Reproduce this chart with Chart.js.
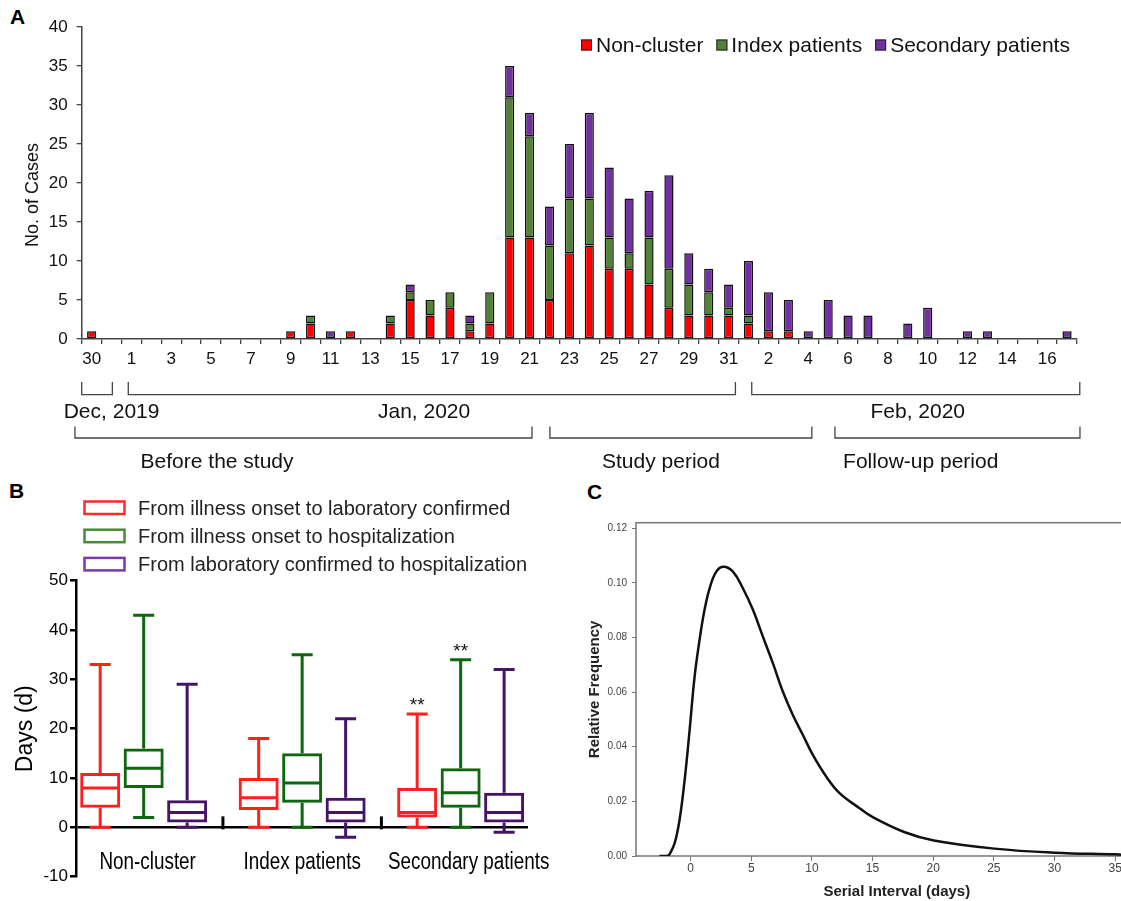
<!DOCTYPE html>
<html>
<head>
<meta charset="utf-8">
<title>Cases by onset date, onset intervals, serial interval</title>
<script src="https://cdn.jsdelivr.net/npm/chart.js@4.4.1/dist/chart.umd.min.js"></script>
<style>
  html, body { margin: 0; padding: 0; overflow: hidden; background: #fff; }
  body { width: 1121px; height: 901px; position: relative; font-family: 'Liberation Sans', Arial, sans-serif; }
  canvas { position: absolute; }
  .tag { position: absolute; font-weight: bold; font-size: 21px; line-height: 1; color: #000; }
</style>
</head>
<body>
<div class="tag" style="left:10px;top:6px">A</div>
<div class="tag" style="left:9px;top:480px">B</div>
<div class="tag" style="left:587px;top:481px">C</div>
<canvas id="chartA" width="1121" height="480" style="left:0;top:0"></canvas>
<canvas id="chartB" width="560" height="421" style="left:0;top:480px"></canvas>
<canvas id="chartC" width="610" height="421" style="left:570px;top:480px"></canvas>

<script>
// ---- Panel A: cases by date of onset (Dec 30 .. Feb 17) ----
const dayLabels = ['30','31',
  '1','2','3','4','5','6','7','8','9','10','11','12','13','14','15','16',
  '17','18','19','20','21','22','23','24','25','26','27','28','29','30','31',
  '1','2','3','4','5','6','7','8','9','10','11','12','13','14','15','16','17'];
const nonCluster = [1,0, 0,0,0,0,0,0,0,0,
  1,2,0,1,0,2,5,3,4,1,2,13,13,5,11,12,9,9,7,4,3,3,3,
  2,1,1,0,0,0,0,0,0,0,0,0,0,0,0,0,0];
const indexPatients = [0,0, 0,0,0,0,0,0,0,0,
  0,1,0,0,0,1,1,2,2,1,4,18,13,7,7,6,4,2,6,5,4,3,1,
  1,0,0,0,0,0,0,0,0,0,0,0,0,0,0,0,0];
const secondaryPatients = [0,0, 0,0,0,0,0,0,0,0,
  0,0,1,0,0,0,1,0,0,1,0,4,3,5,7,11,9,7,6,12,4,3,3,
  7,5,4,1,5,3,3,0,2,4,0,1,1,0,0,0,1];

// brackets under the axis, in category-index units
const monthNames = ['Dec, 2019', 'Jan, 2020', 'Feb, 2020'];
const monthSpans = [[-0.5, 1.04], [1.84, 32.34], [33.16, 49.64]];
const monthLabelAt = [1.0, 16.7, 41.5];
const periodNames = ['Before the study', 'Study period', 'Follow-up period'];
const periodSpans = [[-0.84, 22.12], [23.02, 36.18], [37.34, 49.65]];
const periodLabelAt = [6.3, 28.6, 41.65];

// ---- Panel B: intervals (box plots) ----
const groups = ['Non-cluster', 'Index patients', 'Secondary patients'];
const seriesNames = ['From illness onset to laboratory confirmed',
  'From illness onset to hospitalization',
  'From laboratory confirmed to hospitalization'];
const confirmMin = [0, 0, 0],  confirmQ1 = [4, 3.5, 2], confirmMed = [8, 6, 3],
      confirmQ3 = [11, 10, 8], confirmMax = [33, 18, 23];
const hospMin = [2, 0, 0],  hospQ1 = [8, 5, 4], hospMed = [12, 9, 7],
      hospQ3 = [16, 15, 12], hospMax = [43, 35, 34];
const lagMin = [0, -2, -1], lagQ1 = [1, 1, 1], lagMed = [3, 3, 3],
      lagQ3 = [5.5, 6, 7], lagMax = [29, 22, 32];
const starMarks = [['', '', '**'], ['', '', '**'], ['', '', '']];
const axisBreaks = [0.5, 1.5];

// ---- Panel C: serial interval distribution ----
const serialX = [-2.56, -1.9, -1.73, -1.32, -0.91, -0.49, -0.08, 0.33, 0.74, 1.15, 1.57,
  2.12, 2.72, 3.49, 4.31, 5.14, 5.96, 6.79, 7.61, 8.43, 9.26, 10.08, 11.19, 12.28,
  13.93, 14.99, 17.6, 20.06, 25.04, 30.0, 35.0, 35.5];
const serialFreq = [0, 0.0001, 0.0007, 0.0046, 0.0132, 0.0278, 0.0461, 0.0656, 0.0791, 0.0901, 0.098,
  0.1041, 0.1059, 0.1041, 0.098, 0.0901, 0.0803, 0.0705, 0.0601, 0.0516, 0.0443, 0.037, 0.029, 0.023,
  0.0175, 0.0143, 0.0088, 0.0057, 0.0027, 0.0012, 0.0006, 0.0005];

const FONT = "'Liberation Sans', Arial, sans-serif";
Chart.defaults.font.family = FONT;
Chart.defaults.color = '#111';

// legend of panel A, drawn inside the plot at top right
const legendA = {
  id: 'legendA',
  afterDraw(chart) {
    const ctx = chart.ctx;
    ctx.save();
    ctx.font = '21px ' + FONT;
    ctx.textBaseline = 'alphabetic';
    let x = 581;
    chart.data.datasets.forEach(ds => {
      ctx.fillStyle = ds.backgroundColor;
      ctx.fillRect(x, 39.5, 11, 11);
      ctx.strokeStyle = '#222';
      ctx.lineWidth = 1;
      ctx.strokeRect(x + 0.5, 40, 10, 10);
      ctx.fillStyle = '#111';
      ctx.fillText(ds.label, x + 15, 51.7);
      x += 15 + ctx.measureText(ds.label).width + 13;
    });
    ctx.restore();
  }
};

// month and study-period brackets below panel A
const bracketsA = {
  id: 'bracketsA',
  afterDraw(chart) {
    const ctx = chart.ctx, xs = chart.scales.x, base = chart.chartArea.bottom;
    ctx.save();
    ctx.strokeStyle = '#444';
    ctx.lineWidth = 1.3;
    ctx.fillStyle = '#111';
    ctx.font = '21px ' + FONT;
    ctx.textAlign = 'center';
    const row = (spans, names, at, top, bot, baseline) => {
      spans.forEach((s, i) => {
        const a = xs.getPixelForValue(s[0]), b = xs.getPixelForValue(s[1]);
        ctx.beginPath();
        ctx.moveTo(a, base + top); ctx.lineTo(a, base + bot);
        ctx.lineTo(b, base + bot); ctx.lineTo(b, base + top);
        ctx.stroke();
        ctx.fillText(names[i], xs.getPixelForValue(at[i]), base + baseline);
      });
    };
    row(monthSpans, monthNames, monthLabelAt, 43, 55.7, 79);
    row(periodSpans, periodNames, periodLabelAt, 87.4, 99, 129);
    // axis title, centred a little below the middle of the axis as in the figure
    const a = chart.chartArea;
    ctx.translate(33, (a.top + a.bottom) / 2 + 12);
    ctx.rotate(-Math.PI / 2);
    ctx.textBaseline = 'middle';
    ctx.font = '18px ' + FONT;
    ctx.fillText('No. of Cases', 0, 0);
    ctx.restore();
  }
};

new Chart(document.getElementById('chartA'), {
  type: 'bar',
  data: {
    labels: dayLabels,
    datasets: [
      { label: 'Non-cluster', data: nonCluster.map(v => v || null), backgroundColor: '#ff0000' },
      { label: 'Index patients', data: indexPatients.map(v => v || null), backgroundColor: '#548235' },
      { label: 'Secondary patients', data: secondaryPatients.map(v => v || null), backgroundColor: '#7030a0' }
    ]
  },
  options: {
    responsive: false,
    animation: false,
    layout: { padding: { left: 0, right: 44, top: 27, bottom: 0 } },
    datasets: { bar: { categoryPercentage: 1, barPercentage: 0.46, borderColor: '#111', borderWidth: 1.5, borderSkipped: false } },
    plugins: { legend: { display: false }, tooltip: { enabled: false } },
    scales: {
      x: {
        stacked: true,
        afterFit: s => { s.height = 141; },
        border: { color: '#444', width: 1.5 },
        grid: { drawOnChartArea: false, color: '#444', tickLength: 5, lineWidth: 1.3 },
        ticks: { autoSkip: false, maxRotation: 0, padding: 5, font: { size: 17 },
          callback: (v, i) => i % 2 === 0 ? dayLabels[i] : '' }
      },
      y: {
        stacked: true, min: 0, max: 40,
        afterFit: s => { s.width = 81.7; },
        border: { color: '#444', width: 1.5 },
        grid: { drawOnChartArea: false, color: '#444', tickLength: 5, lineWidth: 1.3 },
        ticks: { stepSize: 5, padding: 9, font: { size: 17 } }
      }
    }
  },
  plugins: [legendA, bracketsA]
});

// ---- Panel B ----
function boxSet(i, color, legendColor, q1, q3, min, med, max) {
  return {
    label: seriesNames[i],
    data: groups.map((g, k) => ({ x: k, y: [q1[k], q3[k]] })),
    borderColor: color, legendColor, backgroundColor: 'rgba(255,255,255,0)',
    stats: { min, med, max, q1, q3 }, stars: starMarks[i]
  };
}

const whiskersB = {
  id: 'whiskersB',
  afterDatasetsDraw(chart) {
    const ctx = chart.ctx, y = chart.scales.y, xs = chart.scales.x;
    const py = v => y.getPixelForValue(v);
    ctx.save();
    ctx.lineCap = 'butt';
    chart.data.datasets.forEach((ds, di) => {
      chart.getDatasetMeta(di).data.forEach((bar, i) => {
        const { x, width } = bar.getProps(['x', 'width'], true);
        const st = ds.stats, half = width / 2 - 1.5, cap = 10.5;
        ctx.strokeStyle = ds.borderColor;
        ctx.lineWidth = 3;
        ctx.beginPath();
        ctx.moveTo(x - half, py(st.med[i])); ctx.lineTo(x + half, py(st.med[i]));
        ctx.moveTo(x, py(st.q3[i])); ctx.lineTo(x, py(st.max[i]));
        ctx.moveTo(x - cap, py(st.max[i])); ctx.lineTo(x + cap, py(st.max[i]));
        ctx.moveTo(x, py(st.q1[i])); ctx.lineTo(x, py(st.min[i]));
        ctx.moveTo(x - cap, py(st.min[i])); ctx.lineTo(x + cap, py(st.min[i]));
        ctx.stroke();
        if (ds.stars[i]) {
          ctx.fillStyle = '#111';
          ctx.font = '19px ' + FONT;
          ctx.textAlign = 'center';
          ctx.fillText(ds.stars[i], x, py(st.max[i]) - 3);
        }
      });
    });
    // axis break marks on the zero line
    ctx.strokeStyle = '#000';
    ctx.lineWidth = 3;
    axisBreaks.forEach(b => {
      const bx = xs.getPixelForValue(b);
      ctx.beginPath();
      ctx.moveTo(bx, py(0) - 11); ctx.lineTo(bx, py(0) + 2);
      ctx.stroke();
    });
    // group names under the zero line, horizontally squeezed like a narrow face
    ctx.fillStyle = '#000';
    ctx.font = '23px ' + FONT;
    ctx.textAlign = 'center';
    ctx.textBaseline = 'middle';
    groups.forEach((g, k) => {
      ctx.save();
      ctx.translate(xs.getPixelForValue(k) + (k === 0 ? 4 : 0) + (k === 2 ? 8 : 0), py(0) + 35);
      ctx.scale(0.82, 1);
      ctx.fillText(g, 0, 0);
      ctx.restore();
    });
    ctx.restore();
  },
  afterDraw(chart) {
    const ctx = chart.ctx;
    ctx.save();
    ctx.font = '20px ' + FONT;
    ctx.fillStyle = '#222';
    chart.data.datasets.forEach((ds, i) => {
      const cy = 27.5 + 28.2 * i;
      ctx.strokeStyle = ds.legendColor;
      ctx.lineWidth = 2.5;
      ctx.strokeRect(84.5, cy - 6, 40, 12.5);
      ctx.fillText(ds.label, 138, cy + 7.5);
    });
    ctx.restore();
  }
};

new Chart(document.getElementById('chartB'), {
  type: 'bar',
  data: {
    datasets: [
      boxSet(0, '#ff1f1f', '#ff2a2a', confirmQ1, confirmQ3, confirmMin, confirmMed, confirmMax),
      boxSet(1, '#0e660e', '#4a8a3a', hospQ1, hospQ3, hospMin, hospMed, hospMax),
      boxSet(2, '#461466', '#7a3aaa', lagQ1, lagQ3, lagMin, lagMed, lagMax)
    ]
  },
  options: {
    responsive: false,
    animation: false,
    layout: { padding: { left: 0, right: 32, top: 100.7, bottom: 0 } },
    datasets: { bar: { categoryPercentage: 0.823, barPercentage: 0.92, borderWidth: 3, borderSkipped: false } },
    plugins: { legend: { display: false }, tooltip: { enabled: false } },
    scales: {
      x: {
        type: 'linear', min: -0.427, max: 2.425, offset: false,
        afterFit: s => { s.height = 24.3; },
        border: { display: false },
        grid: { display: false, drawTicks: false },
        ticks: { display: false, stepSize: 1, includeBounds: false }
      },
      y: {
        min: -10, max: 50,
        afterFit: s => { s.width = 76; },
        border: { color: '#000', width: 2.5 },
        grid: {
          color: c => c.tick && c.tick.value === 0 ? '#000' : 'rgba(0,0,0,0)',
          lineWidth: 2.5, tickColor: '#000', tickWidth: 2.5, tickLength: 6
        },
        ticks: { stepSize: 10, padding: 2, color: '#000', font: { size: 17 } },
        title: { display: true, text: 'Days (d)', color: '#000', font: { size: 23 }, padding: { top: 11.7 } }
      }
    }
  },
  plugins: [whiskersB]
});

// ---- Panel C ----
const frameC = {
  id: 'frameC',
  beforeDatasetsDraw(chart) {
    const { ctx, chartArea: a } = chart;
    ctx.save();
    ctx.strokeStyle = '#777';
    ctx.lineWidth = 1.5;
    ctx.strokeRect(a.left, a.top, a.right - a.left, a.bottom - a.top);
    ctx.restore();
  }
};

new Chart(document.getElementById('chartC'), {
  type: 'line',
  data: {
    datasets: [{
      data: serialX.map((x, i) => ({ x, y: serialFreq[i] })),
      borderColor: '#111', borderWidth: 2.5, pointRadius: 0,
      tension: 0.4, fill: false
    }]
  },
  options: {
    responsive: false,
    animation: false,
    layout: { padding: { left: 0, right: 22.4, top: 42.7, bottom: 0 } },
    plugins: { legend: { display: false }, tooltip: { enabled: false } },
    scales: {
      x: {
        type: 'linear', min: -4.5, max: 38.5,
        afterFit: s => { s.height = 45; },
        border: { display: false },
        grid: { drawOnChartArea: false, color: '#777', tickLength: 5 },
        ticks: { stepSize: 5, includeBounds: false, padding: 0, color: '#444', font: { size: 12 } },
        title: { display: true, text: 'Serial Interval (days)', color: '#222', font: { size: 15, weight: 'bold' }, padding: 0 }
      },
      y: {
        min: 0, max: 0.122,
        afterFit: s => { s.width = 66; },
        border: { display: false },
        grid: { drawOnChartArea: false, color: '#777', tickLength: 4 },
        ticks: { stepSize: 0.02, includeBounds: false, padding: 5, color: '#444', font: { size: 10 },
          callback: v => v.toFixed(2) },
        title: { display: true, text: 'Relative Frequency', color: '#222', font: { size: 15, weight: 'bold' }, padding: { top: 15.6 } }
      }
    }
  },
  plugins: [frameC]
});
</script>
</body>
</html>
